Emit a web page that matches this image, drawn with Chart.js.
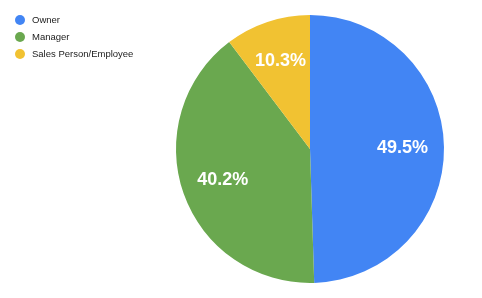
<!DOCTYPE html>
<html>
<head>
<meta charset="utf-8">
<script src="https://cdn.jsdelivr.net/npm/chart.js@4/dist/chart.umd.min.js"></script>
<style>
  html, body { margin: 0; padding: 0; background: #fff; }
  #wrap { position: relative; width: 482px; height: 298px; }
  #legend { position: absolute; left: 15px; top: 13px; font-family: "Liberation Sans", Arial, sans-serif; font-size: 9.5px; color: #222; }
  #legend div { height: 17px; line-height: 14px; white-space: nowrap; }
  #legend span { display: inline-block; width: 10px; height: 10px; border-radius: 50%; vertical-align: -2px; margin-right: 7px; }
</style>
</head>
<body>
<div id="wrap">
  <canvas id="grafic" width="482" height="298"></canvas>
  <div id="legend"></div>
</div>
<script>
const categories = ['Owner', 'Manager', 'Sales Person/Employee'];
const valors = [49.5, 40.2, 10.3];
const colors = ['#4285F4', '#6AA84F', '#F1C232'];

// Etiquetes de percentatge dins de cada sector
const etiquetes = {
    id: 'etiquetes',
    afterDatasetsDraw(chart) {
        const ctx = chart.ctx;
        ctx.save();
        ctx.font = 'bold 18px "Liberation Sans", Arial, sans-serif';
        ctx.fillStyle = '#fff';
        ctx.textAlign = 'center';
        ctx.textBaseline = 'middle';
        chart.getDatasetMeta(0).data.forEach((arc, i) => {
            const p = arc.getProps(['x', 'y', 'startAngle', 'endAngle', 'outerRadius']);
            const mig = (p.startAngle + p.endAngle) / 2;
            const r = p.outerRadius * 0.69;
            ctx.fillText(valors[i].toFixed(1) + '%', p.x + Math.cos(mig) * r, p.y + Math.sin(mig) * r);
        });
        ctx.restore();
    }
};

new Chart(document.getElementById('grafic').getContext('2d'), {
    type: 'pie',
    data: { labels: categories, datasets: [{ data: valors, backgroundColor: colors, borderWidth: 0 }] },
    options: {
        responsive: false,
        animation: false,
        layout: { padding: { left: 176, right: 38, top: 15, bottom: 15 } },
        plugins: { legend: { display: false }, tooltip: { enabled: false } }
    },
    plugins: [etiquetes]
});

const legend = document.getElementById('legend');
categories.forEach((c, i) => {
    const div = document.createElement('div');
    div.innerHTML = `<span style="background:${colors[i]}"></span>${c}`;
    legend.appendChild(div);
});
</script>
</body>
</html>
